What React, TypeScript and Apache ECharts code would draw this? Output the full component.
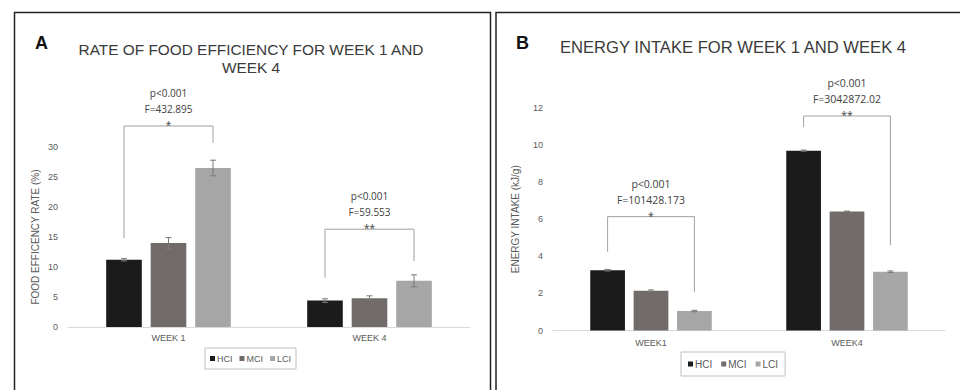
import React, { useEffect, useRef } from "react";
import * as echarts from "echarts";

const groups = ["HCI", "MCI", "LCI"];
const groupColors = ["#1b1b1b", "#716c6a", "#a6a6a6"];

const weeksA = ["WEEK 1", "WEEK 4"];
const weeksB = ["WEEK1", "WEEK4"];

// Panel A: food efficiency rate (%)
const rateHCI = [11.2, 4.4];
const rateMCI = [14.0, 4.8];
const rateLCI = [26.5, 7.7];
const rateErrHCI = [0.2, 0.3];
const rateErrMCI = [0.9, 0.4];
const rateErrLCI = [1.3, 1.0];

// Panel B: energy intake (kJ/g)
const energyHCI = [3.25, 9.7];
const energyMCI = [2.15, 6.42];
const energyLCI = [1.05, 3.17];
const energyErrHCI = [0.04, 0.03];
const energyErrMCI = [0.04, 0.02];
const energyErrLCI = [0.04, 0.04];

// brackets: [category, left foot, top, right foot]
const rateBrackets = [
  [0, 14.8, 33.5, 30.7],
  [1, 8.2, 16.3, 11.0],
];
const rateStats = [
  ["p<0.001", "F=432.895", "*"],
  ["p<0.001", "F=59.553", "**"],
];
const energyBrackets = [
  [0, 4.25, 6.14, 2.06],
  [1, 10.97, 11.57, 4.6],
];
const energyStats = [
  ["p<0.001", "F=101428.173", "*"],
  ["p<0.001", "F=3042872.02", "**"],
];

const CAT_GAP = 0.38;
const BAR_GAP = 0.25;

function barOffset(bandWidth: number, g: number) {
  const w = (bandWidth * (1 - CAT_GAP)) / (3 + 2 * BAR_GAP);
  return (g - 1) * w * (1 + BAR_GAP);
}

function errorData(vals: number[][], errs: number[][]) {
  const out: number[][] = [];
  vals.forEach((v, g) => {
    v.forEach((val, c) => {
      out.push([c, val - errs[g][c], val + errs[g][c], g]);
    });
  });
  return out;
}

const errorRender = (params: any, api: any) => {
  const cat = api.value(0);
  const lo = api.value(1);
  const hi = api.value(2);
  const g = api.value(3);
  const bw = api.size([1, 0])[0];
  const off = barOffset(bw, g);
  const pLo = api.coord([cat, lo]);
  const pHi = api.coord([cat, hi]);
  const x = pLo[0] + off;
  const style = { stroke: "#7a7a7a", lineWidth: 1 };
  return {
    type: "group",
    children: [
      { type: "line", shape: { x1: x, y1: pLo[1], x2: x, y2: pHi[1] }, style },
      { type: "line", shape: { x1: x - 3, y1: pHi[1], x2: x + 3, y2: pHi[1] }, style },
      { type: "line", shape: { x1: x - 3, y1: pLo[1], x2: x + 3, y2: pLo[1] }, style },
    ],
  };
};

const makeBracketRender = (stats: string[][], fontSize: number) => (params: any, api: any) => {
  const cat = api.value(0);
  const lf = api.value(1);
  const top = api.value(2);
  const rf = api.value(3);
  const bw = api.size([1, 0])[0];
  const c = api.coord([cat, top]);
  const xl = c[0] + barOffset(bw, 0);
  const xr = c[0] + barOffset(bw, 2);
  const yl = api.coord([cat, lf])[1];
  const yr = api.coord([cat, rf])[1];
  const yt = c[1];
  const xm = (xl + xr) / 2;
  const s = stats[params.dataIndex];
  const tstyle = (text: string, y: number) => ({
    type: "text",
    x: xm,
    y,
    style: {
      text,
      fill: "#404040",
      font: `${fontSize}px "Open Sans", "Liberation Sans", sans-serif`,
      textAlign: "center",
      textVerticalAlign: "middle",
    },
  });
  return {
    type: "group",
    children: [
      {
        type: "polyline",
        shape: { points: [[xl, yl], [xl, yt], [xr, yt], [xr, yr]] },
        style: { stroke: "#a0a0a0", lineWidth: 1, fill: "none" },
      },
      tstyle(s[0], yt - 33),
      tstyle(s[1], yt - 17),
      tstyle(s[2], yt - 1),
    ],
  };
};

const axisLabelStyle = { color: "#595959", fontSize: 9, fontFamily: "Liberation Sans, Arial, sans-serif" };

export default function App() {
  const ref = useRef<HTMLDivElement>(null);
  useEffect(() => {
    if (!ref.current) return;
    const chart = echarts.init(ref.current, undefined, { renderer: "svg" });
    const rateVals = [rateHCI, rateMCI, rateLCI];
    const energyVals = [energyHCI, energyMCI, energyLCI];
    const barSeries: any[] = [];
    groups.forEach((g, i) => {
      barSeries.push({
        type: "bar",
        name: g,
        xAxisIndex: 0,
        yAxisIndex: 0,
        data: rateVals[i],
        barGap: "25%",
        barCategoryGap: "38%",
        itemStyle: { color: groupColors[i] },
      });
    });
    groups.forEach((g, i) => {
      barSeries.push({
        type: "bar",
        name: g,
        xAxisIndex: 1,
        yAxisIndex: 1,
        data: energyVals[i],
        barGap: "25%",
        barCategoryGap: "38%",
        itemStyle: { color: groupColors[i] },
      });
    });
    const legendCommon = {
      data: groups,
      orient: "horizontal",
      icon: "rect",
      itemWidth: 5,
      itemHeight: 5,
      itemGap: 7,
      borderColor: "#bfbfbf",
      borderWidth: 1,
      borderRadius: 0,
      selectedMode: false,
      textStyle: { color: "#595959", fontSize: 9, fontFamily: "Liberation Sans, Arial, sans-serif", padding: [0, 0, 0, -3] },
    };
    const titleFont = "Liberation Sans, Arial, sans-serif";
    chart.setOption({
      animation: false,
      backgroundColor: "#ffffff",
      grid: [
        { left: 68, top: 147, width: 402, height: 180, containLabel: false },
        { left: 553, top: 108, width: 392, height: 222.5, containLabel: false },
      ],
      xAxis: [
        {
          type: "category",
          gridIndex: 0,
          data: weeksA,
          axisLine: { lineStyle: { color: "#d9d9d9" } },
          axisTick: { show: false },
          axisLabel: { ...axisLabelStyle, margin: 6 },
        },
        {
          type: "category",
          gridIndex: 1,
          data: weeksB,
          axisLine: { lineStyle: { color: "#d9d9d9" } },
          axisTick: { show: false },
          axisLabel: { ...axisLabelStyle, margin: 8 },
        },
      ],
      yAxis: [
        {
          type: "value",
          gridIndex: 0,
          min: 0,
          max: 30,
          interval: 5,
          axisLine: { show: false },
          axisTick: { show: false },
          splitLine: { show: false },
          axisLabel: { ...axisLabelStyle, margin: 10 },
          name: "FOOD EFFICENCY RATE (%)",
          nameLocation: "middle",
          nameRotate: 90,
          nameGap: 28,
          nameTextStyle: { color: "#595959", fontSize: 10, fontFamily: "Liberation Sans, Arial, sans-serif" },
        },
        {
          type: "value",
          gridIndex: 1,
          min: 0,
          max: 12,
          interval: 2,
          axisLine: { show: false },
          axisTick: { show: false },
          splitLine: { show: false },
          axisLabel: { ...axisLabelStyle, margin: 10 },
          name: "ENERGY INTAKE (kJ/g)",
          nameLocation: "middle",
          nameRotate: 90,
          nameGap: 33,
          nameTextStyle: { color: "#595959", fontSize: 10, fontFamily: "Liberation Sans, Arial, sans-serif" },
        },
      ],
      legend: [
        { ...legendCommon, left: 205, top: 348, padding: [6, 5, 6, 5] },
        { ...legendCommon, left: 681, top: 352, padding: [7, 7, 7, 7], itemGap: 9, textStyle: { ...legendCommon.textStyle, fontSize: 10 } },
      ],
      graphic: [
        { type: "rect", shape: { x: 14.5, y: 12.5, width: 476, height: 400 }, style: { fill: "none", stroke: "#222", lineWidth: 1.5 }, silent: true },
        { type: "rect", shape: { x: 496, y: 12.5, width: 470, height: 400 }, style: { fill: "none", stroke: "#222", lineWidth: 1.5 }, silent: true },
        { type: "text", x: 35, y: 43, style: { text: "A", font: `bold 18px ${titleFont}`, fill: "#111", textVerticalAlign: "middle" } },
        { type: "text", x: 516, y: 43, style: { text: "B", font: `bold 18px ${titleFont}`, fill: "#111", textVerticalAlign: "middle" } },
        {
          type: "text",
          x: 251,
          y: 58,
          style: {
            text: "RATE OF FOOD EFFICIENCY FOR WEEK 1 AND\nWEEK 4",
            font: `15.4px ${titleFont}`,
            lineHeight: 18,
            fill: "#3a3a3a",
            textAlign: "center",
            textVerticalAlign: "middle",
          },
        },
        {
          type: "text",
          x: 733,
          y: 47,
          style: {
            text: "ENERGY INTAKE FOR WEEK 1 AND WEEK 4",
            font: `16.6px ${titleFont}`,
            fill: "#3a3a3a",
            textAlign: "center",
            textVerticalAlign: "middle",
          },
        },
      ],
      series: [
        ...barSeries,
        {
          type: "custom",
          xAxisIndex: 0,
          yAxisIndex: 0,
          renderItem: errorRender,
          data: errorData(rateVals, [rateErrHCI, rateErrMCI, rateErrLCI]),
          encode: { x: 0, y: [1, 2] },
          z: 5,
          clip: false,
        },
        {
          type: "custom",
          xAxisIndex: 1,
          yAxisIndex: 1,
          renderItem: errorRender,
          data: errorData(energyVals, [energyErrHCI, energyErrMCI, energyErrLCI]),
          encode: { x: 0, y: [1, 2] },
          z: 5,
          clip: false,
        },
        {
          type: "custom",
          xAxisIndex: 0,
          yAxisIndex: 0,
          renderItem: makeBracketRender(rateStats, 10),
          data: rateBrackets,
          encode: { x: 0, y: [1, 2, 3] },
          z: 6,
          clip: false,
        },
        {
          type: "custom",
          xAxisIndex: 1,
          yAxisIndex: 1,
          renderItem: makeBracketRender(energyStats, 10.5),
          data: energyBrackets,
          encode: { x: 0, y: [1, 2, 3] },
          z: 6,
          clip: false,
        },
      ],
    });
    return () => chart.dispose();
  }, []);
  return (
    <div
      ref={ref}
      style={{ position: "fixed", left: 0, top: 0, width: 960, height: 390, background: "#fff" }}
    />
  );
}
